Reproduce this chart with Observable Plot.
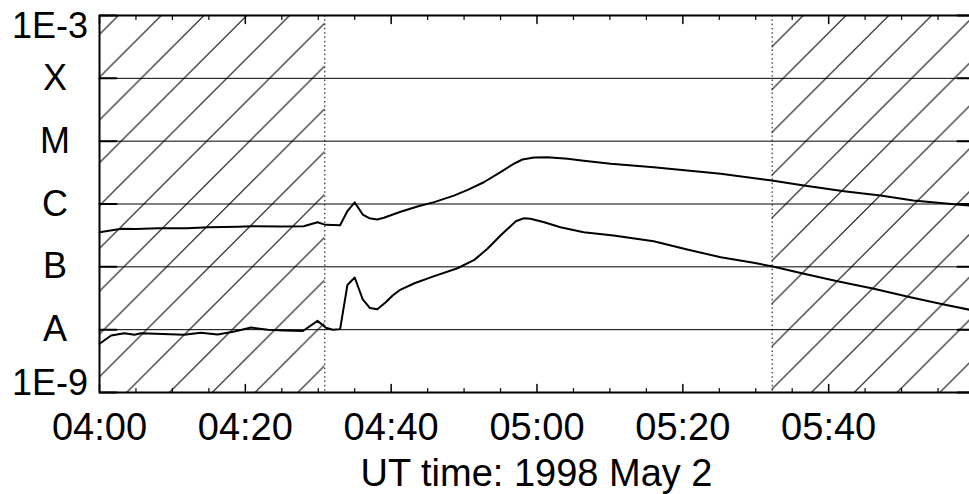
<!DOCTYPE html>
<html>
<head>
<meta charset="utf-8">
<script src="https://cdn.jsdelivr.net/npm/d3@7"></script>
<script src="https://cdn.jsdelivr.net/npm/@observablehq/plot@0.6"></script>
<style>
  html, body { margin: 0; padding: 0; background: #fff; overflow: hidden; }
  svg { display: block; }
</style>
</head>
<body>
<div id="chart"></div>
<script>
// ---- data (minutes after 1998-05-02 04:00 UT, flux in W/m^2) ----
const longMinutes = [0, 3, 5, 8, 12, 15, 19, 21, 25, 28, 29.9, 31.0, 33.0, 34.0, 35.0, 36.1, 37.0, 38.1, 39.0, 41.3, 43.6, 45.9, 48.6, 50.5, 52.7, 55.0, 56.8, 58.0, 59.6, 61.4, 64.2, 66.4, 70.1, 76.0, 80.6, 85.2, 92.2, 96.6, 102.1, 107.1, 111.6, 117.6, 120];
const longFlux = [3.56e-7, 4.03e-7, 4.0e-7, 4.1e-7, 4.12e-7, 4.25e-7, 4.34e-7, 4.43e-7, 4.38e-7, 4.43e-7, 5.13e-7, 4.66e-7, 4.6e-7, 7.73e-7, 1.06e-6, 6.8e-7, 5.94e-7, 5.66e-7, 6.03e-7, 7.51e-7, 9.12e-7, 1.07e-6, 1.36e-6, 1.68e-6, 2.22e-6, 3.21e-6, 4.36e-6, 5.11e-6, 5.5e-6, 5.56e-6, 5.24e-6, 4.87e-6, 4.36e-6, 3.85e-6, 3.41e-6, 3.03e-6, 2.37e-6, 1.97e-6, 1.6e-6, 1.36e-6, 1.14e-6, 9.82e-7, 9.3e-7];

const shortMinutes = [0, 1.6, 3.4, 4.8, 5.7, 11.6, 13.9, 16.2, 18.5, 20.8, 23.1, 25.3, 27.9, 29.9, 31.05, 32.0, 33.0, 34.0, 35.0, 36.1, 37.1, 38.1, 39.3, 40.2, 41.3, 43.2, 45.9, 49.1, 51.4, 53.2, 55.0, 57.1, 58.2, 59.1, 61.0, 63.2, 66.4, 70.5, 76.0, 80.6, 85.2, 89.7, 92.2, 96.6, 101.2, 106.2, 111.2, 115.8, 120];
const shortFlux = [5.96e-9, 8.07e-9, 8.79e-9, 8.28e-9, 8.79e-9, 8.28e-9, 8.91e-9, 8.37e-9, 9.35e-9, 1.08e-8, 9.95e-9, 9.69e-9, 9.52e-9, 1.38e-8, 1.07e-8, 9.95e-9, 1.02e-8, 5.14e-8, 6.76e-8, 3.04e-8, 2.21e-8, 2.11e-8, 2.75e-8, 3.5e-8, 4.35e-8, 5.48e-8, 7.1e-8, 9.5e-8, 1.29e-7, 1.94e-7, 3.15e-7, 5.32e-7, 5.94e-7, 5.81e-7, 5.13e-7, 4.27e-7, 3.56e-7, 3.15e-7, 2.56e-7, 1.89e-7, 1.42e-7, 1.16e-7, 1.02e-7, 7.75e-8, 5.9e-8, 4.47e-8, 3.29e-8, 2.51e-8, 2.0e-8];

const classTicks = [1e-4, 1e-5, 1e-6, 1e-7, 1e-8];
const classLabels = ["X", "M", "C", "B", "A"];
const allDecades = [1e-9, 1e-8, 1e-7, 1e-6, 1e-5, 1e-4, 1e-3];
const majorTickMinutes = [0, 20, 40, 60, 80, 100];
const minorTickMinutes = [5, 10, 15, 25, 30, 35, 45, 50, 55, 65, 70, 75, 85, 90, 95, 105, 110, 115];
const shadedStart = [0, 92.25];     // minutes
const shadedEnd = [30.9, 120];
const xTitle = "UT time: 1998 May 2";

// ---- helpers ----
const T0 = Date.UTC(1998, 4, 2, 4, 0, 0);
const toDate = m => new Date(T0 + m * 60000);

const longData = longMinutes.map((m, i) => ({t: toDate(m), f: longFlux[i]}));
const shortData = shortMinutes.map((m, i) => ({t: toDate(m), f: shortFlux[i]}));
const shaded = shadedStart.map((s, i) => ({x1: toDate(s), x2: toDate(shadedEnd[i])}));
const dotted = shadedStart.slice(1).concat(shadedEnd.slice(0, 1)).map(toDate);
const majorTimes = majorTickMinutes.map(toDate);
const minorTimes = minorTickMinutes.map(toDate);
const tStart = toDate(0), tEnd = toDate(120);

const FONT = "'Liberation Sans', Arial, Helvetica, sans-serif";
const tickShape = {draw(context, l) { context.moveTo(0, 0); context.lineTo(0, -l); }};

const chart = Plot.plot({
  width: 969,
  height: 494,
  marginLeft: 99,
  marginRight: 0,
  marginTop: 15,
  marginBottom: 102,
  style: {fontFamily: FONT, background: "#fff", color: "#000", overflow: "hidden"},
  x: {type: "utc", domain: [tStart, tEnd], range: [99, 974], axis: null},
  y: {type: "log", domain: [1e-9, 1e-3], axis: null},
  marks: [
    Plot.rect(shaded, {x1: "x1", x2: "x2", fill: "url(#hatch)"}),
    Plot.ruleY(classTicks, {stroke: "#000", strokeWidth: 1}),
    Plot.ruleX(dotted, {stroke: "#000", strokeWidth: 1, strokeDasharray: "1.5,2.8"}),
    Plot.line(longData, {x: "t", y: "f", stroke: "#000", strokeWidth: 2, strokeLinejoin: "round"}),
    Plot.line(shortData, {x: "t", y: "f", stroke: "#000", strokeWidth: 2, strokeLinejoin: "round"}),
    // frame (top, bottom, left)
    Plot.ruleY([1e-3, 1e-9], {stroke: "#000", strokeWidth: 2}),
    Plot.ruleX([tStart], {stroke: "#000", strokeWidth: 2}),
    // y ticks pointing inward on both sides
    Plot.vector(allDecades, {x: () => tStart, y: d => d, length: 17, rotate: 90, anchor: "start", shape: tickShape, stroke: "#000", strokeWidth: 2}),
    Plot.vector(allDecades, {x: () => tEnd, y: d => d, length: 17, rotate: -90, anchor: "start", shape: tickShape, stroke: "#000", strokeWidth: 2}),
    // x ticks pointing inward, bottom and top
    Plot.vector(majorTimes, {x: d => d, y: () => 1e-9, length: 8, rotate: 0, anchor: "start", shape: tickShape, stroke: "#000", strokeWidth: 1.5}),
    Plot.vector(minorTimes, {x: d => d, y: () => 1e-9, length: 4, rotate: 0, anchor: "start", shape: tickShape, stroke: "#000", strokeWidth: 1.2}),
    Plot.vector(majorTimes, {x: d => d, y: () => 1e-3, length: 8, rotate: 180, anchor: "start", shape: tickShape, stroke: "#000", strokeWidth: 1.5}),
    Plot.vector(minorTimes, {x: d => d, y: () => 1e-3, length: 4, rotate: 180, anchor: "start", shape: tickShape, stroke: "#000", strokeWidth: 1.2}),
    // x tick labels
    Plot.axisX({anchor: "bottom", ticks: majorTimes, tickSize: 0, tickPadding: 21, tickFormat: "%H:%M", fontSize: 38, label: null}),
    // y labels
    Plot.text(classTicks, {y: d => d, text: classLabels, frameAnchor: "left", dx: -44.5, textAnchor: "middle", lineAnchor: "middle", fontSize: 36, fill: "#000"}),
    Plot.text([1e-3], {y: d => d, text: ["1E-3"], frameAnchor: "left", dx: -49.5, dy: 11, textAnchor: "middle", lineAnchor: "middle", fontSize: 36, fill: "#000"}),
    Plot.text([1e-9], {y: d => d, text: ["1E-9"], frameAnchor: "left", dx: -49.5, dy: -9, textAnchor: "middle", lineAnchor: "middle", fontSize: 36, fill: "#000"}),
    // x title
    Plot.text([xTitle], {frameAnchor: "bottom", dx: 2, dy: 81, textAnchor: "middle", lineAnchor: "middle", fontSize: 38, fill: "#000"})
  ]
});

// hatch pattern: 45° lines, x + y ≡ 5.5 (mod 42.8)
const S = 42.8, P = 5.5;
const defs = d3.select(chart).insert("defs", ":first-child");
defs.append("pattern")
  .attr("id", "hatch")
  .attr("patternUnits", "userSpaceOnUse")
  .attr("width", S).attr("height", S)
  .append("path")
  .attr("d", `M${-1},${P + 1}L${P + 1},${-1}M${P - 1},${S + 1}L${S + 1},${P - 1}`)
  .attr("stroke", "#000").attr("stroke-width", 1).attr("fill", "none");

document.getElementById("chart").appendChild(chart);
</script>
</body>
</html>
